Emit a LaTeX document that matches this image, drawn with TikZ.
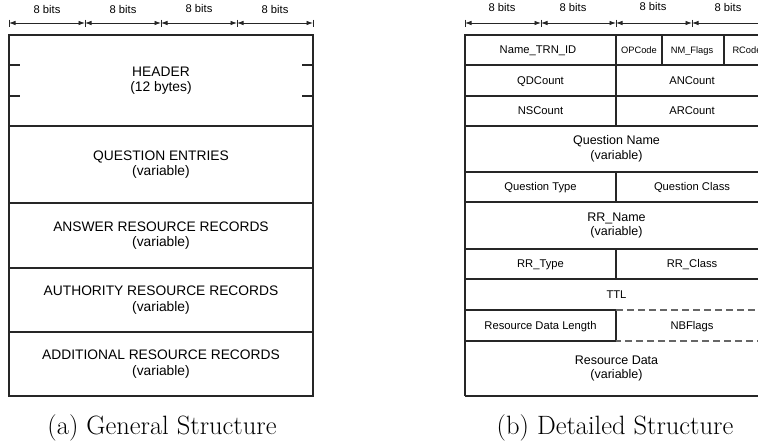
\documentclass[tikz,border=0pt]{standalone}
\usepackage{fontspec}
\newfontfamily\arial{Liberation Sans}
\usetikzlibrary{arrows.meta}
\begin{document}
\begin{tikzpicture}[x=1pt,y=-1pt,
  frame/.style={draw=black!85, line width=1.1pt},
  dashedline/.style={draw=black!60, line width=1.1pt, dash pattern=on 7pt off 4pt},
  dimarrow/.style={draw=black!85, line width=0.8pt,
    {Latex[length=6.5pt,width=4.5pt]}-{Latex[length=6.5pt,width=4.5pt]}},
  tickmark/.style={draw=black!85, line width=0.9pt},
  bits/.style={font=\arial\fontsize{11.2}{13}\selectfont, inner sep=0pt},
  bigtext/.style={font=\arial\fontsize{13.8}{15.5}\selectfont, align=center, inner sep=0pt},
  fieldtext/.style={font=\arial\fontsize{11.2}{13}\selectfont, inner sep=0pt,
    text height=0.72em, text depth=0pt},
  smalltext/.style={font=\arial\fontsize{9.3}{11}\selectfont, inner sep=0pt,
    text height=0.72em, text depth=0pt},
  vartext/.style={font=\arial\fontsize{12.5}{14.5}\selectfont, align=center, inner sep=0pt},
  captiontext/.style={font=\fontsize{26.5}{30}\selectfont, anchor=base, inner sep=0pt}
]
\useasboundingbox (0,0) rectangle (758,442);
\clip (0,0) rectangle (758,442);

% ---------------- (a) general structure ----------------
% width scale: four 8-bit columns
\foreach \i/\x in {0/9,1/85,2/161,3/237,4/313}{
  \coordinate (ga\i) at (\x,23);
  \draw[tickmark] (\x,19.5) -- (\x,26.5);
}
\draw[dimarrow] (ga0) -- (ga1);
\draw[dimarrow] (ga1) -- (ga2);
\draw[dimarrow] (ga2) -- (ga3);
\draw[dimarrow] (ga3) -- (ga4);
\node[bits] (gb1) at (47,9) {8 bits};
\node[bits] (gb2) at (123,9) {8 bits};
\node[bits] (gb3) at (199,8) {8 bits};
\node[bits] (gb4) at (275,9) {8 bits};

% sections
\draw[frame] (9,35) rectangle (313,396);
\foreach \y in {126,203,268,332}{
  \draw[frame] (9,\y) -- (313,\y);
}
% header word marks
\foreach \y in {65,96}{
  \draw[frame] (9,\y) -- (20,\y);
  \draw[frame] (302,\y) -- (313,\y);
}
\node[bigtext] (hdr) at (161,80.5) {HEADER\\(12 bytes)};
\node[bigtext] (qst) at (161,164.5) {QUESTION ENTRIES\\(variable)};
\node[bigtext] (ans) at (161,235.5) {ANSWER RESOURCE RECORDS\\(variable)};
\node[bigtext] (aut) at (161,300) {AUTHORITY RESOURCE RECORDS\\(variable)};
\node[bigtext] (add) at (161,364) {ADDITIONAL RESOURCE RECORDS\\(variable)};
\node[captiontext] (capa) at (162,434) {(a) General Structure};

% ---------------- (b) detailed structure ----------------
\foreach \i/\x in {0/465,1/541,2/616,3/692,4/768}{
  \coordinate (da\i) at (\x,23);
  \draw[tickmark] (\x,19.5) -- (\x,26.5);
}
\draw[dimarrow] (da0) -- (da1);
\draw[dimarrow] (da1) -- (da2);
\draw[dimarrow] (da2) -- (da3);
\draw[dimarrow] (da3) -- (da4);
\node[bits] (db1) at (502,7.5) {8 bits};
\node[bits] (db2) at (573,7.5) {8 bits};
\node[bits] (db3) at (653,6) {8 bits};
\node[bits] (db4) at (728,7.5) {8 bits};

% outer border and rows
\draw[frame] (465,396) -- (465,35) -- (768,35) -- (768,310);
\draw[frame] (768,341) -- (768,396) -- (465,396);
\foreach \y in {65,96,126,172,202,249,279}{
  \draw[frame] (465,\y) -- (768,\y);
}
\draw[frame] (465,310) -- (616,310) -- (616,341) -- (465,341);
\draw[dashedline] (616,310) -- (768,310) -- (768,341) -- (616,341);
% column splits
\draw[frame] (616,35) -- (616,126);
\draw[frame] (616,172) -- (616,202);
\draw[frame] (616,249) -- (616,279);
\draw[frame] (662,35) -- (662,65);
\draw[frame] (724,35) -- (724,65);

\node[fieldtext] (trn) at (538,50) {Name\_TRN\_ID};
\node[smalltext] (opc) at (639,50) {OPCode};
\node[smalltext] (nmf) at (692,50) {NM\_Flags};
\node[smalltext] (rcd) at (747,50) {RCode};
\node[fieldtext] (qdc) at (540.5,80.5) {QDCount};
\node[fieldtext] (anc) at (692,80.5) {ANCount};
\node[fieldtext] (nsc) at (540.5,111) {NSCount};
\node[fieldtext] (arc) at (692,111) {ARCount};
\node[vartext] (qnm) at (616.5,149) {Question Name\\(variable)};
\node[fieldtext] (qty) at (540.5,187) {Question Type};
\node[fieldtext] (qcl) at (692,187) {Question Class};
\node[vartext] (rrn) at (616.5,225.5) {RR\_Name\\(variable)};
\node[fieldtext] (rrt) at (540.5,264) {RR\_Type};
\node[fieldtext] (rrc) at (692,264) {RR\_Class};
\node[fieldtext] (ttl) at (616.5,294.5) {TTL};
\node[fieldtext] (rdl) at (540.5,325.5) {Resource Data Length};
\node[fieldtext] (nbf) at (692,325.5) {NBFlags};
\node[vartext] (rdt) at (616.5,368.5) {Resource Data\\(variable)};
\node[captiontext] (capb) at (615,434) {(b) Detailed Structure};
\end{tikzpicture}
\end{document}
